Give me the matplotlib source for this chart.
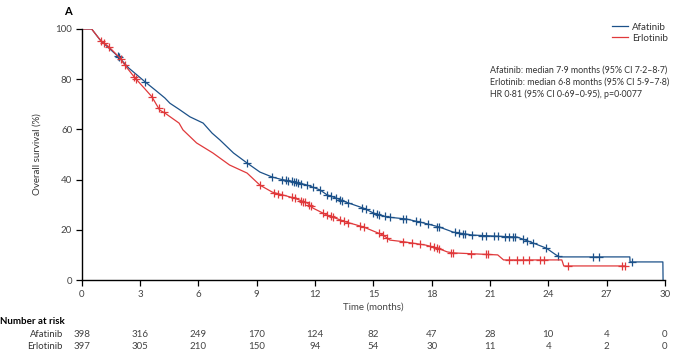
import numpy as np
import matplotlib.pyplot as plt

plt.rcParams['font.family'] = ['Lato', 'DejaVu Sans']

# points on the curves (month, % surviving)
afa_t = [0, 0.5, 0.94, 1.3, 1.9, 2.4, 2.83, 3.24, 3.8, 4.27, 4.53, 5.0, 5.56, 6.24, 6.7, 7.1,
         7.8, 8.5, 9.16, 9.8, 10.3, 11.0, 11.6, 12.25, 12.6, 13.1, 13.6, 14.5, 15.0, 15.7,
         16.7, 17.2, 17.4, 18.4, 19.1, 20.1, 22.4, 23.1, 23.9, 24.4, 24.6, 28.2, 28.21,
         29.9, 29.91]
afa_s = [100, 100, 95.6, 93, 88.8, 84.5, 81.7, 79, 75.5, 72.5, 70.4, 68, 65, 62.5, 58.5, 55.8,
         50.6, 46.6, 43, 41, 40, 39, 37.8, 35.9, 34, 32.6, 31, 28.6, 26.7, 25.1,
         24.3, 23.4, 23.1, 21.1, 19.1, 17.9, 17.1, 15.1, 12.7, 10, 9.2, 9.2, 7.2,
         7.2, 0]
erl_t = [0, 0.5, 0.94, 1.4, 1.96, 2.2, 2.73, 3.2, 3.6, 4.0, 4.27, 5.0, 5.2, 5.9, 6.74, 7.6,
         8.5, 9.16, 9.8, 10.9, 11.6, 11.9, 12.6, 13.6, 14.5, 15.5, 15.85, 16.5, 17.7, 18.3,
         18.8, 19.1, 21.4, 21.7, 24.7, 24.8, 27.95]
erl_s = [100, 100, 95.6, 92.8, 88.4, 85.7, 80.5, 76.5, 73, 67.7, 66.5, 62.5, 59.8, 54.6, 50.6, 45.8,
         42.6, 37.8, 35, 32.7, 30.7, 28.6, 25.9, 23.1, 21.1, 17.9, 15.9, 15.3, 13.9, 12.7,
         11.2, 10.8, 10.0, 8.0, 8.0, 5.6, 5.6]

# censoring times (months)
afa_cens = [1.85, 1.9, 3.24, 8.5, 9.8, 10.3, 10.5, 10.6, 10.8, 10.9, 11.0, 11.1, 11.3, 11.6,
            11.9, 12.25, 12.6, 12.8, 13.1, 13.3, 13.4, 13.7, 14.4, 14.6, 15.0, 15.2, 15.3,
            15.6, 15.85, 16.5, 16.7, 17.2, 17.4, 17.8, 18.3, 18.4, 19.2, 19.4, 19.6, 19.7,
            20.1, 20.6, 20.8, 21.2, 21.4, 21.8, 22.0, 22.2, 22.3, 22.7, 22.9, 23.2, 23.9,
            24.5, 26.3, 26.6, 28.3]
erl_cens = [1.0, 1.15, 1.4, 2.0, 2.2, 2.7, 2.8, 3.6, 3.95, 4.2, 9.16, 9.9, 10.1, 10.3, 10.8,
            10.95, 11.3, 11.4, 11.5, 11.7, 11.8, 12.4, 12.6, 12.8, 12.9, 13.3, 13.5, 13.7,
            14.3, 14.5, 15.3, 15.5, 15.7, 16.5, 17.0, 17.4, 17.9, 18.1, 18.3, 18.4, 19.0,
            19.1, 20.0, 20.8, 20.9, 22.0, 22.4, 22.7, 23.0, 23.6, 23.8, 25.0, 27.8, 27.95]

ticks = [0, 3, 6, 9, 12, 15, 18, 21, 24, 27, 30]
afa_risk = [398, 316, 249, 170, 124, 82, 47, 28, 10, 4, 0]
erl_risk = [397, 305, 210, 150, 94, 54, 30, 11, 4, 2, 0]

blue = '#1c5189'
red = '#e0393b'
grey = '#444444'

fig = plt.figure(figsize=(6.77, 3.62), dpi=100)
ax = fig.add_axes([0.121, 0.2265, 0.861, 0.6935])

for tt, ss, cens, c, lab in [(afa_t, afa_s, afa_cens, blue, 'Afatinib'),
                             (erl_t, erl_s, erl_cens, red, 'Erlotinib')]:
    ax.plot(tt, ss, color=c, lw=0.9, label=lab)
    # censor marks sit on the curve
    ax.plot(cens, np.interp(cens, tt, ss), '+', color=c, ms=5.5, mew=0.9)

ax.set_xlim(0, 30)
ax.set_ylim(0, 100)
ax.set_xticks(ticks)
ax.set_yticks([0, 20, 40, 60, 80, 100])
for s in ['top', 'right']:
    ax.spines[s].set_visible(False)
for s in ['left', 'bottom']:
    ax.spines[s].set_linewidth(1.0)
ax.tick_params(length=4, width=0.9, labelsize=7, labelcolor=grey, pad=3)
ax.set_xlabel('Time (months)', fontsize=7, color=grey, labelpad=3)
ax.set_ylabel('Overall survival (%)', fontsize=7, color='#333333', labelpad=10)

leg = ax.legend(loc='upper right', bbox_to_anchor=(1.02, 1.06), frameon=False, fontsize=7,
                handlelength=1.6, handletextpad=0.4, labelspacing=0.2)
for t in leg.get_texts():
    t.set_color('#333333')

ax.text(0.70, 0.855, 'Afatinib: median 7·9 months (95% CI 7·2–8·7)\n'
        'Erlotinib: median 6·8 months (95% CI 5·9–7·8)\n'
        'HR 0·81 (95% CI 0·69–0·95), p=0·0077',
        transform=ax.transAxes, fontsize=6.4, color='#333333', va='top', linespacing=1.45)

fig.text(0.1, 0.967, 'A', fontsize=8, fontweight='bold', ha='center', va='center')

# number at risk table
fig.text(0.0, 0.113, 'Number at risk', fontsize=7, fontweight='bold', va='center')
fig.text(0.093, 0.077, 'Afatinib', fontsize=6.8, ha='right', va='center', color='#333333')
fig.text(0.093, 0.044, 'Erlotinib', fontsize=6.8, ha='right', va='center', color='#333333')
for t, a, e in zip(ticks, afa_risk, erl_risk):
    xf = 0.121 + 0.861 * t / 30
    fig.text(xf, 0.077, str(a), fontsize=7, ha='center', va='center', color=grey)
    fig.text(xf, 0.044, str(e), fontsize=7, ha='center', va='center', color=grey)

fig.savefig('out.png', dpi=100)
